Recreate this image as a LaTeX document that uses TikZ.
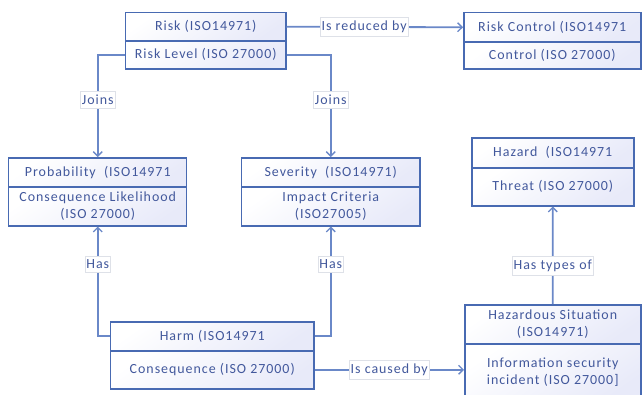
\documentclass[tikz,border=0pt]{standalone}
\usepackage{fontspec}
\setmainfont{Carlito}[LetterSpace=7]
\usetikzlibrary{arrows.meta}
\definecolor{edge}{RGB}{72,106,178}
\definecolor{wire}{RGB}{106,136,200}
\definecolor{ink}{RGB}{66,88,156}
\definecolor{tint}{RGB}{232,234,249}
\definecolor{tagline}{RGB}{222,225,232}
\tikzset{
  part/.style={draw=edge, line width=1.5pt, inner sep=1pt, anchor=north west,
    align=center, text=ink, font=\fontsize{14}{17}\selectfont,
    top color=white, bottom color=tint, shading angle=35},
  conn/.style={draw=wire, line width=1.8pt},
  tip/.style={-{Straight Barb[length=4.5pt,width=9pt,line width=1.3pt]}},
  tag/.style={fill=white, draw=tagline, line width=0.5pt, text=ink,
    inner xsep=1.5pt, inner ysep=3.5pt, font=\fontsize{14}{17}\selectfont},
}
\begin{document}
\begin{tikzpicture}[x=1bp,y=1bp]
\useasboundingbox (0,0) rectangle (642,-394);
\clip (0,0) rectangle (642,-394);
\fill[white] (0,0) rectangle (642,-394);

% two-part class boxes
\node[part, minimum width=160bp, minimum height=28bp] (risk-t) at (125,-12) {Risk (ISO14971)};
\node[part, minimum width=160bp, minimum height=28bp] (risk-b) at (125,-40) {Risk Level (ISO 27000)};

\node[part, minimum width=177bp, minimum height=29bp] (ctrl-t) at (463,-12) {Risk Control (ISO14971};
\node[part, minimum width=177bp, minimum height=27bp] (ctrl-b) at (463,-41) {Control (ISO 27000)};

\node[part, minimum width=178bp, minimum height=29bp] (prob-t) at (8,-157) {Probability\ \ (ISO14971};
\node[part, minimum width=178bp, minimum height=39bp] (prob-b) at (8,-186) {Consequence Likelihood\\(ISO 27000)};

\node[part, minimum width=178bp, minimum height=29bp] (sev-t) at (241,-157) {Severity\ \ (ISO14971)};
\node[part, minimum width=178bp, minimum height=39bp] (sev-b) at (241,-186) {Impact Criteria\\(ISO27005)};

\node[part, minimum width=162bp, minimum height=30bp] (haz-t) at (471,-137) {Hazard\ \ (ISO14971};
\node[part, minimum width=162bp, minimum height=38bp] (haz-b) at (471,-167) {Threat (ISO 27000)};

\node[part, minimum width=176bp, minimum height=39bp] (hsit-t) at (464,-304) {Hazardous Situation\\(ISO14971)};
\node[part, minimum width=176bp, minimum height=57bp] (hsit-b) at (464,-343) {Information security\\incident (ISO 27000]};

\node[part, minimum width=203bp, minimum height=29bp] (harm-t) at (110,-321) {Harm (ISO14971};
\node[part, minimum width=203bp, minimum height=38bp] (harm-b) at (110,-350) {Consequence (ISO 27000)};

% relations
\draw[conn, tip] (risk-t.east) -- node[tag, pos=0.44] {Is reduced by} (ctrl-t.west);
\draw[conn, tip] (risk-b.west) -| node[tag, pos=0.72] {Joins} (prob-t.north);
\draw[conn, tip] (risk-b.east) -| node[tag, pos=0.72] {Joins} (sev-t.north);
\draw[conn, tip] (harm-t.west) -| node[tag, pos=0.83] {Has} (prob-b.south);
\draw[conn, tip] (harm-t.east) -| node[tag, pos=0.83] {Has} (sev-b.south);
\draw[conn, tip] (harm-b.east) -- node[tag, pos=0.5] {Is caused by} (harm-b.east -| hsit-b.west);
\draw[conn, tip] (hsit-t.north) -- node[tag, pos=0.39] {Has types of} (haz-b.south);
\end{tikzpicture}
\end{document}
